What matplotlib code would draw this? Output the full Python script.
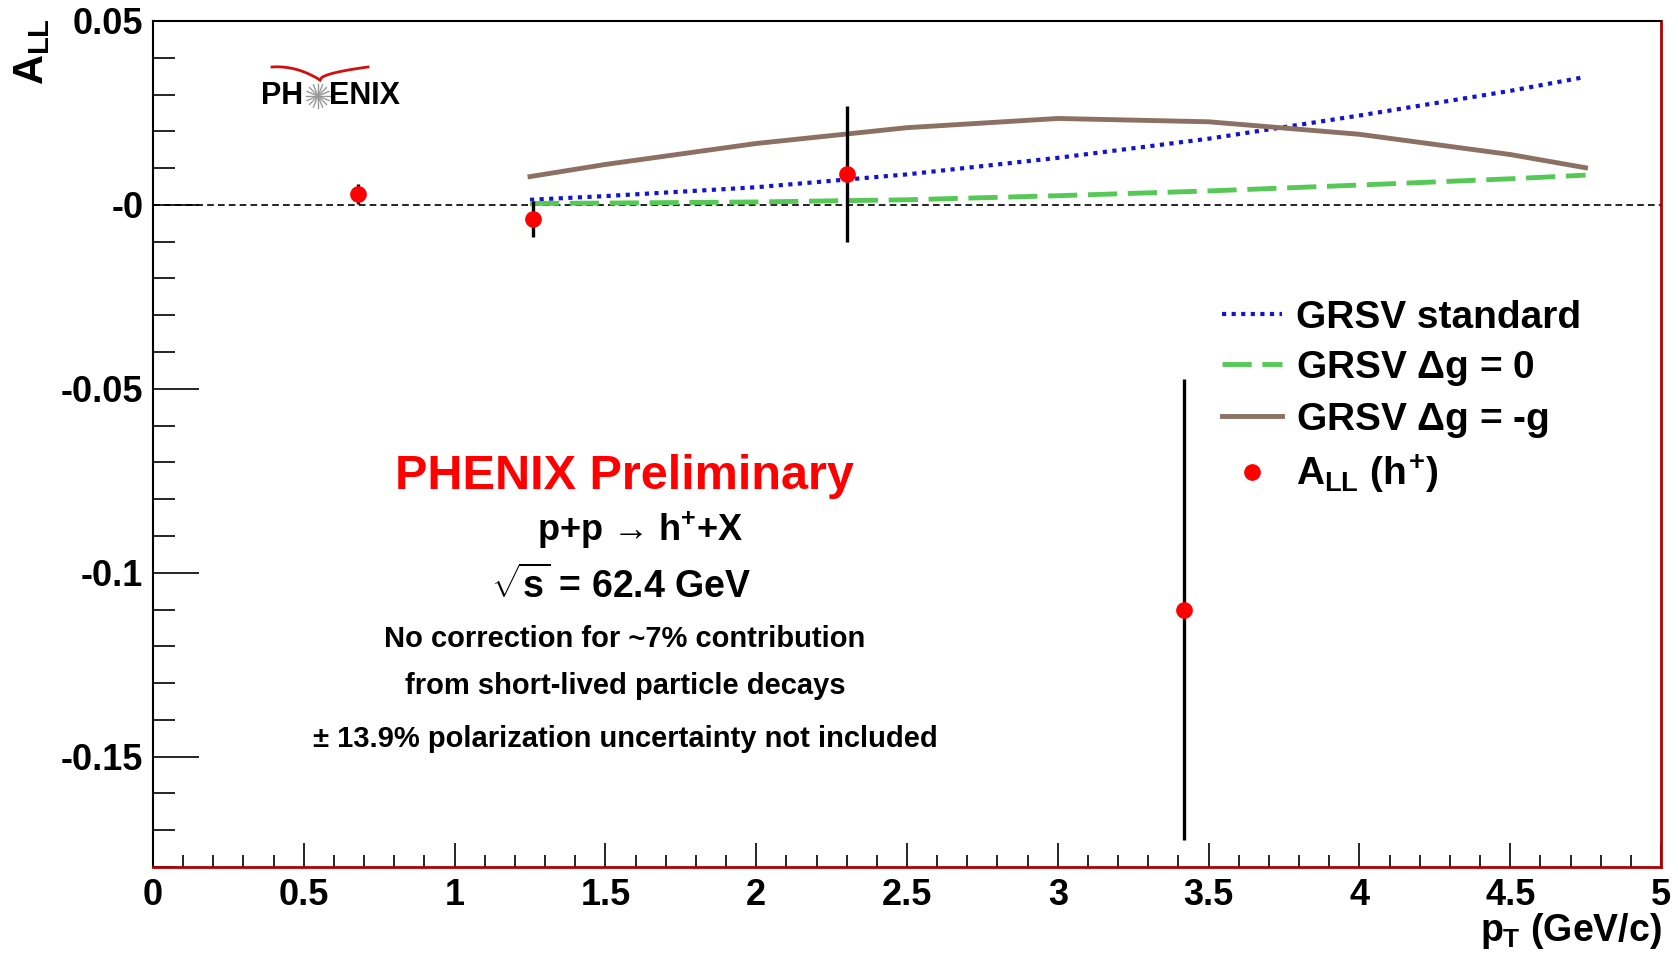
import numpy as np
import matplotlib
matplotlib.use("Agg")
import matplotlib.pyplot as plt
from matplotlib.lines import Line2D
from matplotlib.ticker import MultipleLocator

plt.rcParams['font.family'] = ['Liberation Sans', 'DejaVu Sans']
plt.rcParams['font.weight'] = 'bold'
plt.rcParams['mathtext.fontset'] = 'custom'
plt.rcParams['mathtext.rm'] = 'Liberation Sans:bold'
plt.rcParams['mathtext.it'] = 'Liberation Sans:bold'
plt.rcParams['mathtext.bf'] = 'Liberation Sans:bold'

# measured A_LL(h+)
pt_data = [0.68, 1.26, 2.30, 3.42]
all_data = [0.0030, -0.0038, 0.0085, -0.1100]
all_err = [0.0028, 0.0048, 0.0185, 0.0627]

# GRSV curves
pt_theory = [1.25, 1.5, 2.0, 2.5, 3.0, 3.5, 4.0, 4.5, 4.75]
grsv_std = [0.0014, 0.0024, 0.0048, 0.0083, 0.0128, 0.0180, 0.0243, 0.0310, 0.0348]
grsv_zero = [0.0004, 0.0005, 0.0008, 0.0014, 0.0025, 0.0038, 0.0054, 0.0071, 0.0081]
grsv_minus = [0.0077, 0.0110, 0.0167, 0.0210, 0.0235, 0.0226, 0.0192, 0.0137, 0.0101]

x_ticks = [0, 0.5, 1, 1.5, 2, 2.5, 3, 3.5, 4, 4.5, 5]
x_labels = ['0', '0.5', '1', '1.5', '2', '2.5', '3', '3.5', '4', '4.5', '5']
y_ticks = [-0.15, -0.1, -0.05, 0, 0.05]
y_labels = ['-0.15', '-0.1', '-0.05', '-0', '0.05']

W, H = 1678, 959


def px(x, y):
    # pixel position (from top-left) -> figure fraction
    return x / W, 1 - y / H


fig = plt.figure(figsize=(W / 100, H / 100), dpi=100)
ax = fig.add_axes([153 / W, 1 - 867 / H, (1661 - 153) / W, (867 - 21) / H])
ax.set_xlim(0, 5)
ax.set_ylim(-0.18, 0.05)

ax.axhline(0, color='black', lw=1.2, ls=(0, (4, 2.5)), zorder=1)

ax.plot(pt_theory, grsv_std, color='#1414cc', lw=3, ls=(0, (1, 1.3)), label='GRSV standard')
ax.plot(pt_theory, grsv_zero, color='#55c855', lw=3.5, ls=(0, (6, 2.2)), label=r'GRSV $\Delta$g = 0')
ax.plot(pt_theory, grsv_minus, color='#8c7064', lw=3.5, label=r'GRSV $\Delta$g = -g')
ax.errorbar(pt_data, all_data, yerr=all_err, fmt='o', color='red', ms=11,
            ecolor='black', elinewidth=2.4, capsize=0, zorder=5)

ax.set_xticks(x_ticks)
ax.set_xticklabels(x_labels)
ax.set_yticks(y_ticks)
ax.set_yticklabels(y_labels)
ax.xaxis.set_minor_locator(MultipleLocator(0.1))
ax.yaxis.set_minor_locator(MultipleLocator(0.01))
ax.tick_params(axis='y', which='major', direction='in', length=33, width=1.2, labelsize=26, pad=7)
ax.tick_params(axis='y', which='minor', direction='in', length=16, width=1.2)
ax.tick_params(axis='x', which='major', direction='in', length=17, width=1.2, labelsize=26, pad=8)
ax.tick_params(axis='x', which='minor', direction='in', length=9, width=1.2)

for s in ['top', 'left']:
    ax.spines[s].set_linewidth(1.5)
    ax.spines[s].set_color('black')
for s in ['bottom', 'right']:
    ax.spines[s].set_linewidth(2)
    ax.spines[s].set_color('#b00000')

# axis titles
fig.text(*px(32, 52), r'$A_{LL}$', rotation=90, ha='center', va='center', fontsize=30)
fig.text(*px(1662, 931), r'$p_{T}$ (GeV/c)', ha='right', va='center', fontsize=27)

# legend
handles = [
    Line2D([], [], color='#1414cc', lw=3, ls=(0, (1, 1.3))),
    Line2D([], [], color='#55c855', lw=3.5, ls=(0, (6, 2.2))),
    Line2D([], [], color='#8c7064', lw=3.5),
    Line2D([], [], color='red', marker='o', ls='none', ms=11),
]
labels = ['GRSV standard', r'GRSV $\Delta$g = 0', r'GRSV $\Delta$g = -g', r'$A_{LL}$ ($h^{+}$)']
ax.legend(handles, labels, loc='upper left', bbox_to_anchor=((1222 - 153) / 1508, (867 - 300) / 846),
          frameon=False, fontsize=28, handlelength=1.55, handletextpad=0.35,
          labelspacing=0.33, borderpad=0, borderaxespad=0)

# central annotations
fig.text(*px(624, 476), 'PHENIX Preliminary', color='red', ha='center', va='center', fontsize=35)
fig.text(*px(640, 530), 'p+p \u2192 h$^{+}$+X', ha='center', va='center', fontsize=26)
fig.text(*px(621, 586), r'$\sqrt{s}$ = 62.4 GeV', ha='center', va='center', fontsize=27)
fig.text(*px(625, 639), 'No correction for ~7% contribution', ha='center', va='center', fontsize=21)
fig.text(*px(625, 686), 'from short-lived particle decays', ha='center', va='center', fontsize=21)
fig.text(*px(625, 739), '\u00b1 13.9% polarization uncertainty not included', ha='center', va='center', fontsize=21)

# PHENIX logo
fig.text(*px(261, 96), 'PH', ha='left', va='center', fontsize=22)
fig.text(*px(329, 96), 'ENIX', ha='left', va='center', fontsize=22)
cx, cy = 318, 96
for a in np.linspace(0, np.pi, 8, endpoint=False):
    dx, dy = 12 * np.cos(a), 12 * np.sin(a)
    x0, y0 = px(cx - dx, cy - dy)
    x1, y1 = px(cx + dx, cy + dy)
    fig.add_artist(Line2D([x0, x1], [y0, y1], color='#999999', lw=1, transform=fig.transFigure))
t = np.linspace(0, 1, 30)
lx = 272 + (320 - 272) * t
ly = 67 - 2 * np.sin(np.pi * t * 0.5) + 15 * t ** 2
rx = 320 + (368 - 320) * t
ry = 80 - 13 * np.sqrt(t)
for xs, ys in [(lx, ly), (rx, ry)]:
    fx, fy = px(xs, ys)
    fig.add_artist(Line2D(fx, fy, color='#d01010', lw=2, transform=fig.transFigure))

fig.savefig('out.png', dpi=100)
